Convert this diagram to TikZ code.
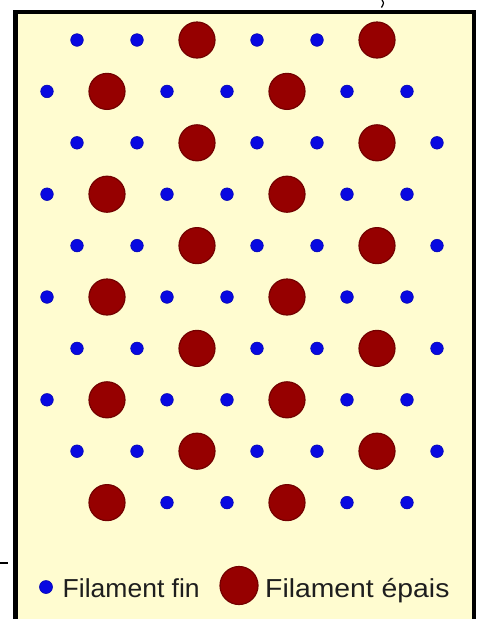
\documentclass[tikz,border=0pt]{standalone}
\usepackage{fontspec}
\setmainfont{Liberation Sans}
\definecolor{bgyellow}{RGB}{255,252,208}
\definecolor{thinblue}{RGB}{8,8,225}
\definecolor{thickred}{RGB}{150,0,0}
\definecolor{thickrim}{RGB}{115,0,0}
\definecolor{txtgray}{RGB}{30,30,30}
\tikzset{
  thin/.style={circle,fill=thinblue,draw=thinblue!80!black,line width=0.6pt,inner sep=0pt,minimum size=12.6pt},
  thick/.style={circle,fill=thickred,draw=thickrim,line width=1.2pt,inner sep=0pt,minimum size=36pt},
  legtext/.style={anchor=base west,inner sep=0pt,text=txtgray,font=\fontsize{26}{30}\selectfont}
}
\begin{document}
\begin{tikzpicture}[x=1pt,y=-1pt]
\useasboundingbox (0,0) rectangle (478,619);
\fill[white] (0,0) rectangle (478,619);
% panel
\fill[bgyellow] (16,12) rectangle (475,619);
\draw[line width=4.6pt] (15.5,619) -- (15.5,11.8) -- (474.6,11.8) -- (474.6,619);
\draw[line width=1.6pt,white] (477.2,0) -- (477.2,619);
\draw[line width=3pt] (474.6,11.8) -- (474.6,619);
% stray marks at the cropped edges
\draw[line width=1.6pt] (0,563) -- (7.5,563);
\draw[line width=1.2pt] (382,0) .. controls (384,3) .. (381.5,7.5);
% lattice
\foreach \i in {0,...,9}{
  \pgfmathsetmacro{\yy}{40+51.4*\i}
  \ifodd\i
    % B rows
    \foreach \k in {0,...,6}{
      \pgfmathsetmacro{\xx}{47+60*\k}
      \ifnum\k=1 \node[thick] (f-\i-\k) at (\xx,\yy) {};
      \else\ifnum\k=4 \node[thick] (f-\i-\k) at (\xx,\yy) {};
      \else
        \ifnum\i=9 \ifnum\k=0 \else \node[thin] (f-\i-\k) at (\xx,\yy) {}; \fi
        \else \node[thin] (f-\i-\k) at (\xx,\yy) {}; \fi
      \fi\fi
    }
  \else
    % A rows
    \foreach \k in {0,...,6}{
      \pgfmathsetmacro{\xx}{77+60*\k}
      \ifnum\k=2 \node[thick] (f-\i-\k) at (\xx,\yy) {};
      \else\ifnum\k=5 \node[thick] (f-\i-\k) at (\xx,\yy) {};
      \else
        \ifnum\i=0 \ifnum\k=6 \else \node[thin] (f-\i-\k) at (\xx,\yy) {}; \fi
        \else \node[thin] (f-\i-\k) at (\xx,\yy) {}; \fi
      \fi\fi
    }
  \fi
}
% legend
\node[thin,minimum size=13pt] (legthin) at (46,587) {};
\node[legtext] (legthintext) at (62.5,597) {\scalebox{1.02}[1]{Filament fin}};
\node[thick,minimum size=38pt] (legthick) at (239,585.5) {};
\node[legtext] (legthicktext) at (265,597) {\scalebox{1.09}[1]{Filament épais}};
\end{tikzpicture}
\end{document}
